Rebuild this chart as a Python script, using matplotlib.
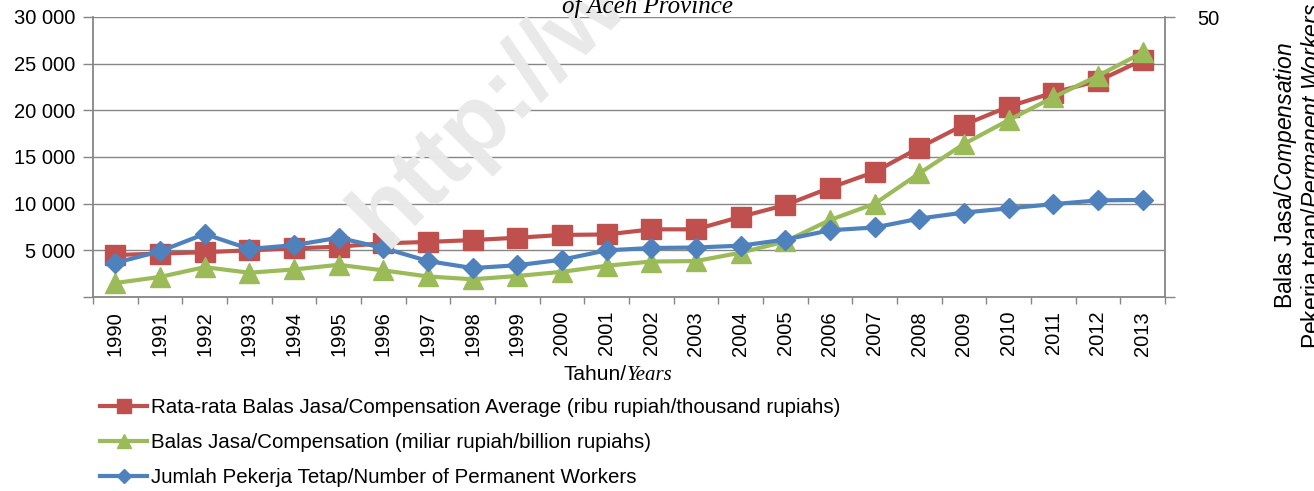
import matplotlib
matplotlib.use("Agg")
import matplotlib.pyplot as plt
from matplotlib.ticker import FixedLocator, FuncFormatter

plt.rcParams['font.family'] = ['Liberation Sans', 'DejaVu Sans']
plt.rcParams['mathtext.fontset'] = 'custom'
plt.rcParams['mathtext.rm'] = 'Liberation Sans'
plt.rcParams['mathtext.it'] = 'Liberation Sans:italic'

years = [str(y) for y in range(1990, 2014)]

# Rata-rata balas jasa (ribu rupiah)
comp_avg = [4500, 4650, 4800, 5000, 5200, 5400, 5750, 5900, 6100, 6350,
            6650, 6700, 7250, 7250, 8600, 9850, 11700, 13400, 16000, 18450,
            20400, 21900, 23150, 25400]
# Balas jasa (miliar rupiah)
comp_total = [1500, 2150, 3200, 2600, 2950, 3450, 2850, 2200, 1900, 2250,
              2700, 3350, 3800, 3850, 4750, 5950, 8250, 10000, 13250, 16400,
              18950, 21400, 23700, 26200]
# Jumlah pekerja tetap
workers = [3650, 4900, 6750, 5150, 5550, 6350, 5250, 3850, 3100, 3400,
           4000, 5000, 5250, 5300, 5500, 6150, 7150, 7450, 8400, 9050,
           9500, 9950, 10350, 10400]

labels = ["Rata-rata Balas Jasa/Compensation Average (ribu rupiah/thousand rupiahs)",
          "Balas Jasa/Compensation (miliar rupiah/billion rupiahs)",
          "Jumlah Pekerja Tetap/Number of Permanent Workers"]

red = '#C0504D'
green = '#9BBB59'
blue = '#4F81BD'
grey = '#868686'

fig = plt.figure(figsize=(13.14, 4.91), dpi=100)
ax = fig.add_axes([93 / 1314, 1 - 297 / 491, (1165 - 93) / 1314, 280 / 491])

# watermark
fig.text(385 / 1314, 1 - 250 / 491, "http://www.bps.go.id", fontsize=70,
         fontweight='bold', color='#e9e9e9', rotation=45,
         rotation_mode='anchor', ha='left', va='baseline', zorder=0)
ax.patch.set_alpha(0)

x = list(range(len(years)))
l1, = ax.plot(x, comp_avg, color=red, lw=3, marker='s', ms=14, zorder=3)
l2, = ax.plot(x, comp_total, color=green, lw=3, marker='^', ms=14, zorder=4)
l3, = ax.plot(x, workers, color=blue, lw=3, marker='D', ms=10.5, zorder=5)

ax.set_xlim(-0.5, len(years) - 0.5)
ax.set_ylim(0, 30000)
ax.set_yticks(range(0, 30001, 5000))
ax.yaxis.set_major_formatter(FuncFormatter(
    lambda v, p: '' if v == 0 else '{:,}'.format(int(v)).replace(',', ' ')))
ax.grid(axis='y', color=grey, lw=1)
ax.set_axisbelow(True)

ax.xaxis.set_major_locator(FixedLocator([i - 0.5 for i in range(len(years) + 1)]))
ax.xaxis.set_major_formatter(FuncFormatter(lambda v, p: ''))
ax.xaxis.set_minor_locator(FixedLocator(x))
ax.set_xticklabels(years, minor=True, rotation=90, fontsize=14.5)
ax.tick_params(axis='x', which='major', direction='out', length=5, width=1, color=grey)
ax.tick_params(axis='x', which='minor', length=0, pad=10)
ax.tick_params(axis='y', direction='out', length=7, width=1, color=grey,
               labelsize=14.5, pad=6)

for s in ['left', 'bottom', 'right']:
    ax.spines[s].set_color(grey)
    ax.spines[s].set_linewidth(1.3)
ax.spines['top'].set_visible(False)

ax2 = ax.twinx()
ax2.set_ylim(0, 50)
ax2.set_yticks([0, 50])
ax2.set_yticklabels(['', '50'])
ax2.tick_params(axis='y', direction='out', length=7, width=1, color=grey,
                labelsize=14.5, pad=16)
for s in ax2.spines.values():
    s.set_visible(False)

# title fragment
fig.text(648 / 1314, 1 - 13 / 491, "of Aceh Province", fontsize=18,
         family='Liberation Serif', style='italic', ha='center', va='baseline')

# x axis title
fig.text(627 / 1314, 1 - 375 / 491, "Tahun/", fontsize=15, ha='right', va='center')
fig.text(627 / 1314, 1 - 375 / 491, "Years", fontsize=15, family='Liberation Serif',
         style='italic', ha='left', va='center')

# right axis title
fig.text(1299 / 1314, 1 - 176 / 491,
         "Balas Jasa/$\\it{Compensation}$\nPekerja tetap/$\\it{Permanent\\ Workers}$",
         fontsize=16.5, rotation=90, ha='center', va='center',
         multialignment='center', linespacing=1.0)

fig.legend([l1, l2, l3], labels, loc='upper left',
           bbox_to_anchor=(100 / 1314, 1 - 398 / 491), frameon=False, fontsize=14.8,
           borderpad=0, borderaxespad=0, handlelength=2.3, handletextpad=0.2,
           labelspacing=0.78, markerscale=0.7)

fig.savefig('out.png', dpi=100)
